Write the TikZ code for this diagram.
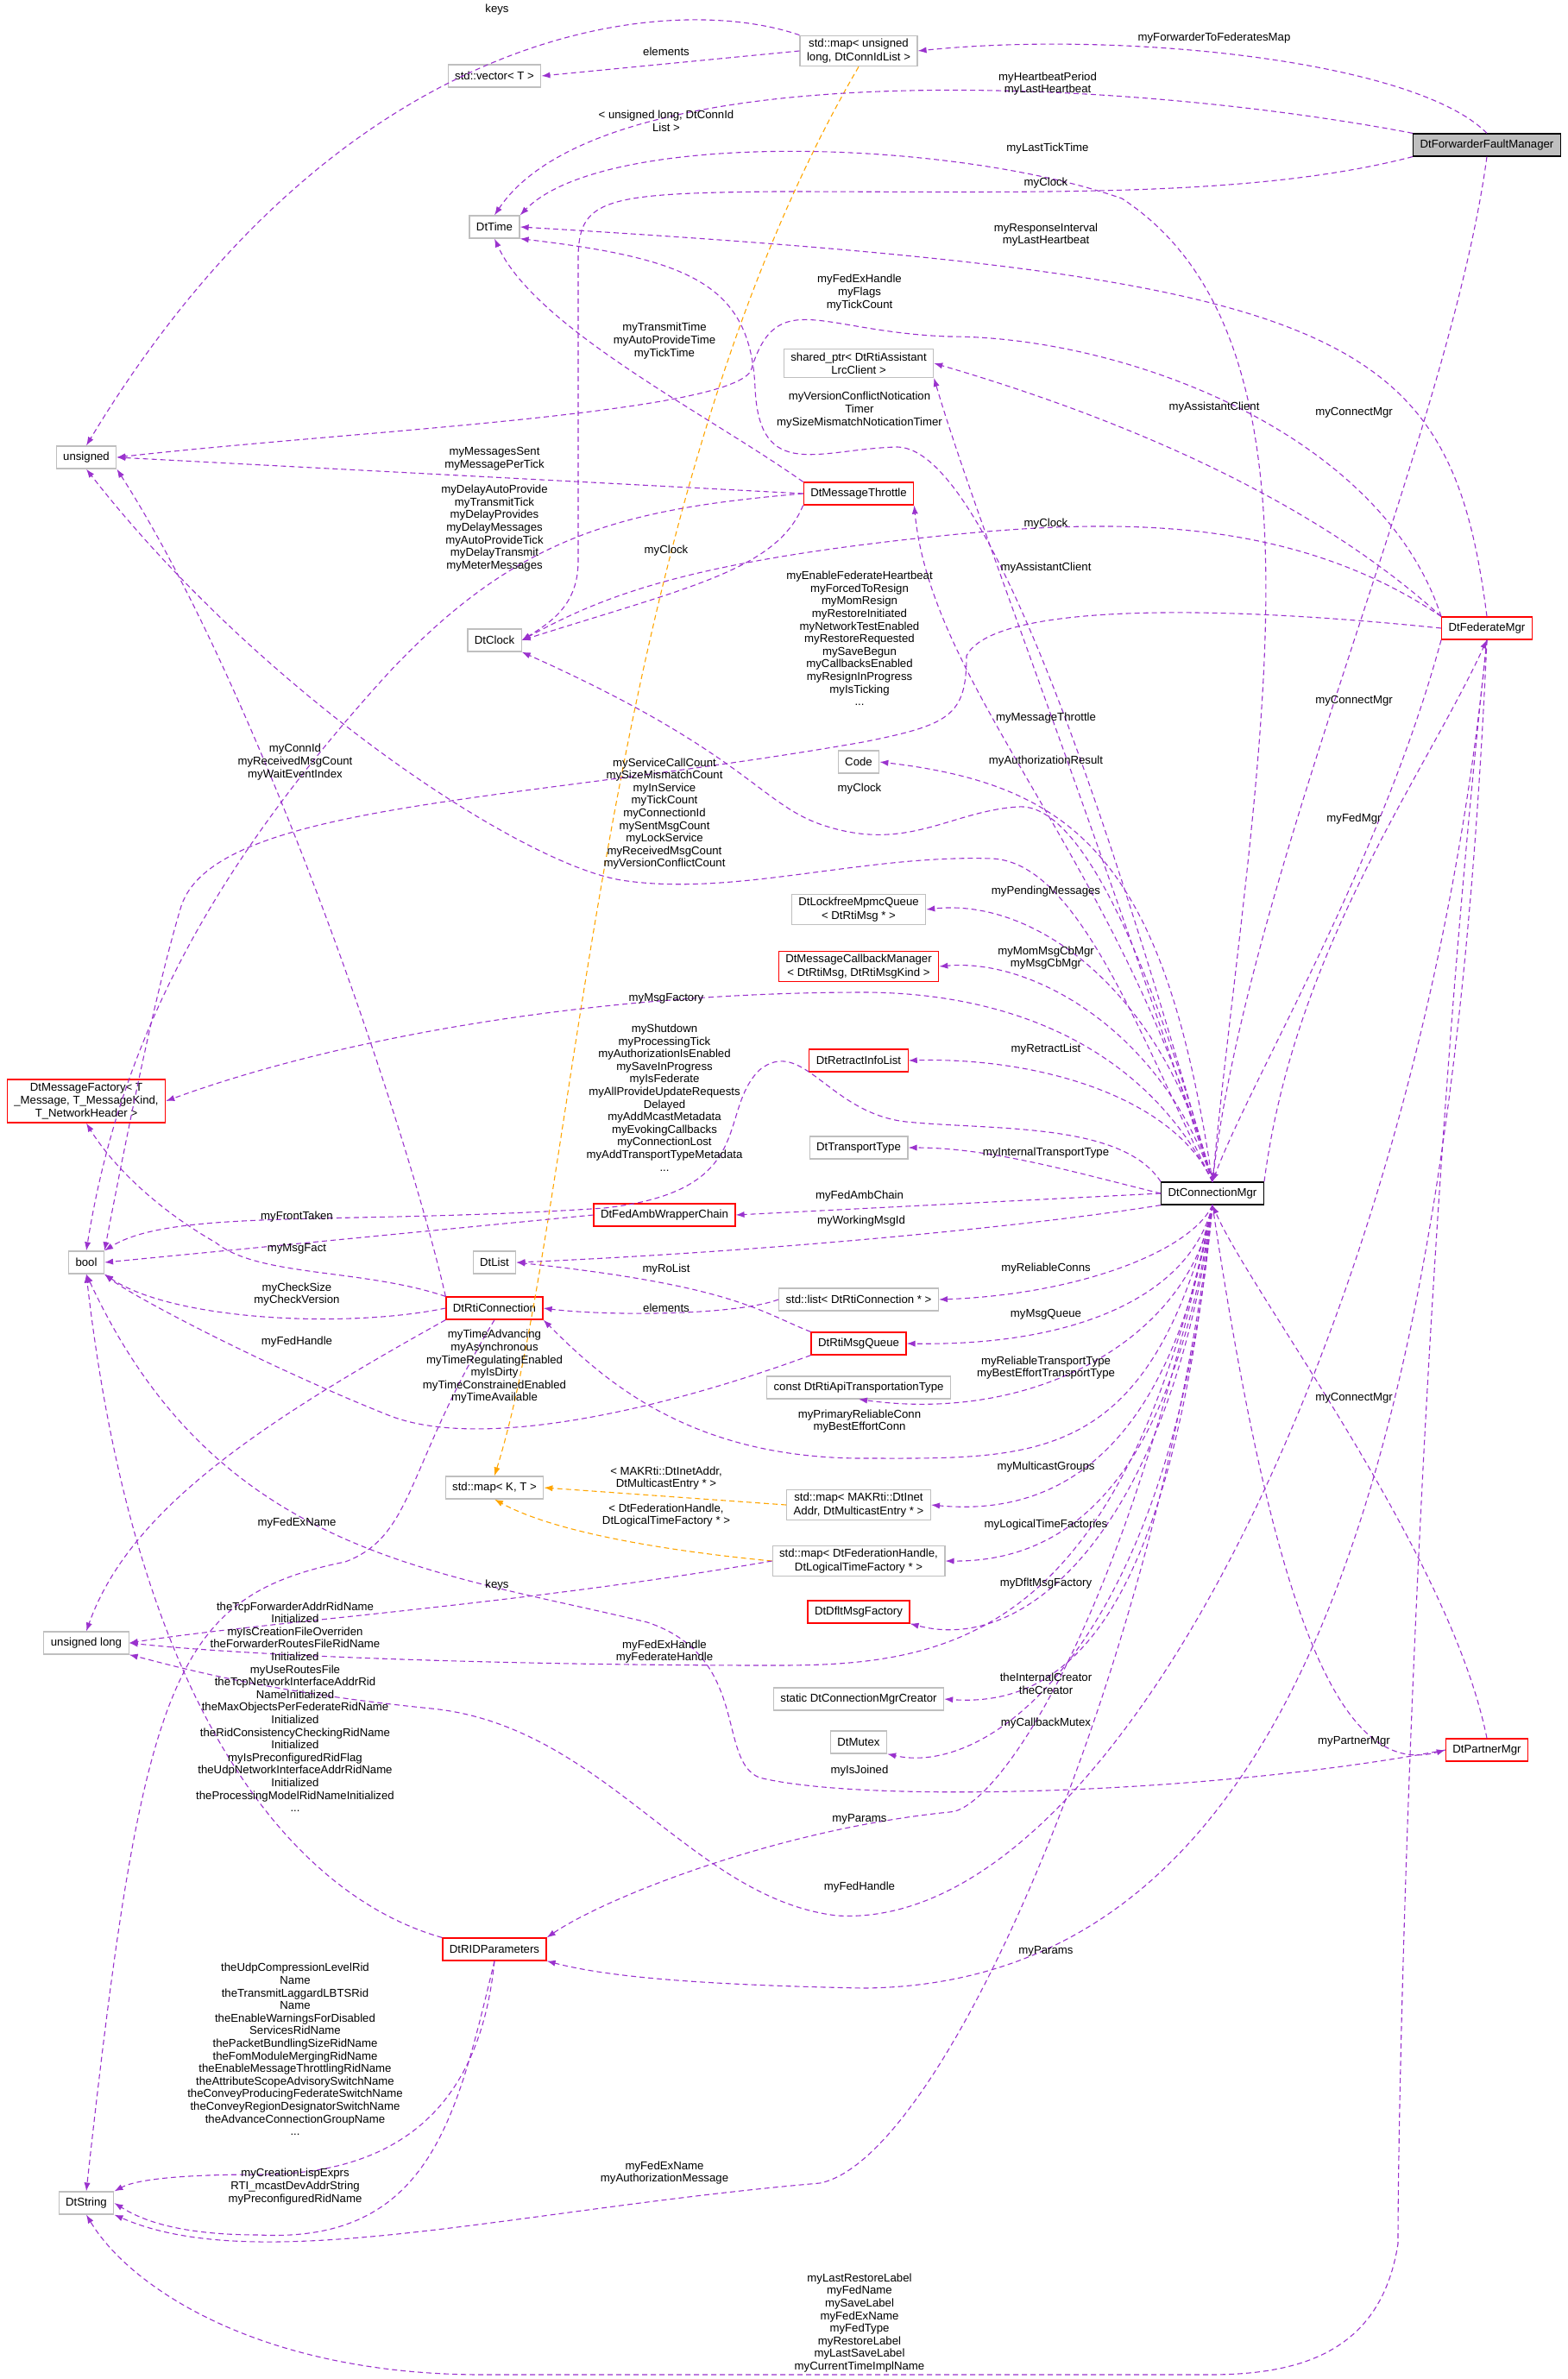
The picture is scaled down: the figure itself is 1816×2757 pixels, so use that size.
\documentclass[tikz,border=0pt]{standalone}
\usepackage{fontspec}
\setmainfont{Liberation Sans}
\usetikzlibrary{arrows.meta}
\definecolor{eP}{HTML}{9A32CD}
\definecolor{eO}{HTML}{FFA500}
\definecolor{bG}{HTML}{BFBFBF}
\begin{document}
\begin{tikzpicture}[x=0.5pt,y=-0.5pt,
 box/.style={draw=bG,fill=white,line width=0.6pt,inner xsep=4pt,inner ysep=2pt,minimum height=13pt,align=center,font=\fontsize{6.6}{7.6}\selectfont},
 rbox/.style={box,draw=red},
 mbox/.style={box,draw=black,fill=bG},
 e/.style={draw=eP,dash pattern=on 3pt off 2pt,line width=0.55pt,-{Latex[length=5pt,width=3.6pt]}},
 o/.style={e,draw=eO},
 lab/.style={align=center,inner sep=0pt,font=\fontsize{6.6}{7.3}\selectfont}]
\useasboundingbox (0,0) rectangle (1816,2757);
% nodes
\node[mbox] (ffm) at (1723,168) {DtForwarderFaultManager};
\node[box] (mapUL) at (995,59) {std::map< unsigned\\long, DtConnIdList >};
\node[box] (vecT) at (573,88) {std::vector< T >};
\node[box] (dttime) at (573,263) {DtTime};
\node[box] (shp) at (995,421) {shared\_ptr< DtRtiAssistant\\LrcClient >};
\node[box] (unsig) at (100,530) {unsigned};
\node[rbox] (thr) at (995,572) {DtMessageThrottle};
\node[box] (dtclock) at (573,742) {DtClock};
\node[rbox] (fedmgr) at (1723,728) {DtFederateMgr};
\node[box] (code) at (995,883) {Code};
\node[box] (lfq) at (995,1054) {DtLockfreeMpmcQueue\\< DtRtiMsg * >};
\node[rbox] (mcbm) at (995,1120) {DtMessageCallbackManager\\< DtRtiMsg, DtRtiMsgKind >};
\node[rbox] (mfac) at (100,1276) {DtMessageFactory< T\\\_Message, T\_MessageKind,\\T\_NetworkHeader >};
\node[rbox] (retract) at (995,1229) {DtRetractInfoList};
\node[box] (ttype) at (995,1330) {DtTransportType};
\node[box,draw=black] (cmgr) at (1405,1383) {DtConnectionMgr};
\node[rbox] (fawc) at (770,1408) {DtFedAmbWrapperChain};
\node[box] (bool) at (100,1463) {bool};
\node[box] (dtlist) at (573,1463) {DtList};
\node[box] (listrc) at (995,1506) {std::list< DtRtiConnection * >};
\node[rbox] (rtic) at (573,1516) {DtRtiConnection};
\node[rbox] (rmq) at (995,1557) {DtRtiMsgQueue};
\node[box] (capi) at (995,1608) {const DtRtiApiTransportationType};
\node[box] (mapKT) at (573,1724) {std::map< K, T >};
\node[box] (mapInet) at (995,1744) {std::map< MAKRti::DtInet\\Addr, DtMulticastEntry * >};
\node[box] (mapFH) at (995,1809) {std::map< DtFederationHandle,\\DtLogicalTimeFactory * >};
\node[box] (ulong) at (100,1904) {unsigned long};
\node[rbox] (dflt) at (995,1868) {DtDfltMsgFactory};
\node[box] (creator) at (995,1969) {static DtConnectionMgrCreator};
\node[box] (mutex) at (995,2019) {DtMutex};
\node[rbox] (partner) at (1723,2028) {DtPartnerMgr};
\node[rbox] (rid) at (573,2259) {DtRIDParameters};
\node[box] (dtstr) at (100,2553) {DtString};
% edges
\draw[e] (ffm.north) .. controls (1640,70) and (1300,35) .. (mapUL.east);
\draw[e] (mapUL.north west) .. controls (780,-10) and (400,20) .. (unsig.north);
\draw[e] (mapUL.west) -- (vecT.east);
\draw[o] (mapUL.south) .. controls (690,600) and (670,1400) .. (mapKT.north);
\draw[e] (ffm.north west) .. controls (1300,90) and (700,60) .. (dttime.north);
\draw[e] (cmgr.north) .. controls (1450,900) and (1560,400) .. (1300,230) .. controls (1100,160) and (700,150) .. (dttime.north east);
\draw[e] (ffm.south west) .. controls (1450,230) and (1200,222) .. (900,222) .. controls (700,224) and (670,230) .. (670,300) -- (670,650) .. controls (670,700) and (640,720) .. (dtclock.east);
\draw[e] (fedmgr.north) .. controls (1680,380) and (1560,320) .. (dttime.east);
\draw[e] (thr.north west) .. controls (820,480) and (620,380) .. (dttime.south);
\draw[e] (cmgr.north) .. controls (1300,1000) and (1150,520) .. (1040,518) .. controls (950,520) and (880,560) .. (875,450) .. controls (870,330) and (800,300) .. (dttime.south east);
\draw[e] (fedmgr.north west) .. controls (1600,500) and (1300,390) .. (1100,390) .. controls (950,385) and (900,330) .. (870,430) .. controls (840,480) and (400,500) .. (unsig.east);
\draw[e] (fedmgr.north west) .. controls (1500,560) and (1250,470) .. (shp.east);
\draw[e] (cmgr.north) .. controls (1250,900) and (1130,600) .. (shp.south east);
\draw[e] (thr.west) -- (unsig.east);
\draw[e] (thr.west) .. controls (720,590) and (600,620) .. (450,780) .. controls (250,1000) and (140,1200) .. (bool.north);
\draw[e] (thr.south west) .. controls (900,660) and (800,680) .. (dtclock.east);
\draw[e] (fedmgr.north west) .. controls (1500,600) and (1300,600) .. (1100,620) .. controls (800,650) and (700,690) .. (dtclock.east);
\draw[e] (fedmgr.west) .. controls (1400,700) and (1150,700) .. (1120,760) .. controls (1120,830) and (1100,840) .. (1000,860) .. controls (600,930) and (250,930) .. (210,1050) .. controls (180,1150) and (150,1300) .. (bool.north east);
\draw[e] (rtic.north west) .. controls (470,1300) and (300,800) .. (unsig.south east);
\draw[e] (cmgr.north) .. controls (1300,1000) and (1080,800) .. (thr.south east);
\draw[e] (cmgr.north) .. controls (1350,1000) and (1250,910) .. (code.east);
\draw[e] (cmgr.north) .. controls (1330,1100) and (1250,930) .. (1180,935) .. controls (1100,940) and (1050,990) .. (950,955) .. controls (880,930) and (860,870) .. (dtclock.south east);
\draw[e] (cmgr.north) .. controls (1320,1200) and (1250,1000) .. (1150,995) .. controls (1000,990) and (850,1040) .. (720,1020) .. controls (600,1000) and (300,800) .. (unsig.south);
\draw[e] (cmgr.north) .. controls (1350,1150) and (1200,1040) .. (lfq.east);
\draw[e] (cmgr.north) .. controls (1350,1200) and (1200,1110) .. (mcbm.east);
\draw[e] (cmgr.north) .. controls (1320,1200) and (1150,1150) .. (1000,1150) .. controls (700,1150) and (400,1200) .. (mfac.east);
\draw[e] (cmgr.north west) .. controls (1300,1300) and (1150,1310) .. (1050,1300) .. controls (960,1290) and (930,1200) .. (880,1240) .. controls (830,1290) and (880,1380) .. (700,1400) .. controls (400,1420) and (200,1400) .. (bool.north east);
\draw[e] (cmgr.north) .. controls (1360,1270) and (1200,1225) .. (retract.east);
\draw[e] (cmgr.west) .. controls (1250,1360) and (1150,1330) .. (ttype.east);
\draw[e] (cmgr.west) -- (fawc.east);
\draw[e] (cmgr.south west) .. controls (1200,1420) and (900,1450) .. (dtlist.east);
\draw[e] (fawc.west) -- (bool.east);
\draw[e] (rtic.north west) .. controls (420,1470) and (300,1480) .. (250,1440) .. controls (180,1400) and (130,1350) .. (mfac.south);
\draw[e] (rtic.west) .. controls (400,1540) and (200,1530) .. (bool.south east);
\draw[e] (rtic.south west) .. controls (300,1650) and (150,1750) .. (ulong.north);
\draw[e] (rmq.north west) .. controls (880,1520) and (850,1490) .. (dtlist.east);
\draw[e] (listrc.west) .. controls (850,1525) and (700,1525) .. (rtic.east);
\draw[e] (cmgr.south) .. controls (1380,1450) and (1250,1500) .. (listrc.east);
\draw[e] (cmgr.south) .. controls (1380,1500) and (1250,1560) .. (rmq.east);
\draw[e] (cmgr.south) .. controls (1380,1550) and (1200,1650) .. (capi.south);
\draw[e] (rmq.south west) .. controls (750,1640) and (550,1680) .. (450,1640) .. controls (300,1580) and (150,1500) .. (bool.south east);
\draw[e] (cmgr.south) .. controls (1330,1700) and (1200,1690) .. (1000,1690) .. controls (800,1690) and (700,1600) .. (rtic.south east);
\draw[o] (mapInet.west) -- (mapKT.east);
\draw[o] (mapFH.west) .. controls (800,1800) and (650,1780) .. (mapKT.south);
\draw[e] (mapFH.west) .. controls (600,1860) and (300,1880) .. (ulong.east);
\draw[e] (cmgr.south) .. controls (1360,1650) and (1250,1760) .. (mapInet.east);
\draw[e] (cmgr.south) .. controls (1360,1700) and (1250,1810) .. (mapFH.east);
\draw[e] (cmgr.south) .. controls (1360,1750) and (1200,1920) .. (dflt.south east);
\draw[e] (cmgr.south) .. controls (1300,1900) and (1100,1930) .. (900,1930) .. controls (600,1930) and (300,1920) .. (ulong.east);
\draw[e] (cmgr.south) .. controls (1360,1850) and (1250,1980) .. (creator.east);
\draw[e] (cmgr.south) .. controls (1360,1900) and (1150,2060) .. (mutex.south east);
\draw[e] (partner.west) .. controls (1400,2080) and (1000,2090) .. (880,2060) .. controls (830,2040) and (870,1920) .. (750,1880) .. controls (500,1820) and (250,1800) .. (bool.south);
\draw[e] (cmgr.south) .. controls (1480,1900) and (1560,2060) .. (partner.west);
\draw[e] (partner.north) .. controls (1680,1800) and (1450,1500) .. (cmgr.south);
\draw[e] (fedmgr.south west) .. controls (1600,1000) and (1450,1250) .. (cmgr.north);
\draw[e] (cmgr.north east) .. controls (1500,1100) and (1650,900) .. (fedmgr.south);
\draw[e] (ffm.south) .. controls (1680,500) and (1450,1000) .. (cmgr.north);
\draw[e] (cmgr.south) .. controls (1300,1900) and (1150,2100) .. (1100,2100) .. controls (900,2120) and (700,2200) .. (rid.north east);
\draw[e] (fedmgr.south) .. controls (1650,1500) and (1300,2240) .. (970,2220) .. controls (800,2200) and (700,2000) .. (500,1980) .. controls (300,1960) and (200,1930) .. (ulong.south east);
\draw[e] (fedmgr.south) .. controls (1680,1700) and (1500,2300) .. (1000,2304) .. controls (800,2300) and (700,2290) .. (rid.south east);
\draw[e] (rid.north west) .. controls (350,2200) and (160,2000) .. (bool.south);
\draw[e] (rid.south) .. controls (560,2400) and (500,2520) .. (300,2520) .. controls (180,2520) and (150,2530) .. (dtstr.north east);
\draw[e] (rid.south) .. controls (530,2450) and (500,2600) .. (300,2590) .. controls (200,2590) and (160,2570) .. (dtstr.east);
\draw[e] (cmgr.south) .. controls (1350,1900) and (1100,2500) .. (950,2530) .. controls (600,2560) and (300,2640) .. (dtstr.south east);
\draw[e] (fedmgr.south) .. controls (1640,1500) and (1620,2400) .. (1620,2600) .. controls (1600,2730) and (1500,2752) .. (1400,2752) -- (560,2752) .. controls (300,2752) and (150,2650) .. (dtstr.south);
\draw[e] (rtic.south) .. controls (470,1700) and (480,1780) .. (400,1810) .. controls (200,1850) and (165,1950) .. (dtstr.north);
% labels
\node[lab] (l1) at (1407,44) {myForwarderToFederatesMap};
\node[lab] (l2) at (576,11) {keys};
\node[lab] (l3) at (772,60) {elements};
\node[lab] (l4) at (1214,97) {myHeartbeatPeriod\\myLastHeartbeat};
\node[lab] (l5) at (772,140) {< unsigned long, DtConnId\\List >};
\node[lab] (l6) at (1214,172) {myLastTickTime};
\node[lab] (l7) at (1212,212) {myClock};
\node[lab] (l8) at (1212,272) {myResponseInterval\\myLastHeartbeat};
\node[lab] (l9) at (996,339) {myFedExHandle\\myFlags\\myTickCount};
\node[lab] (l10) at (770,395) {myTransmitTime\\myAutoProvideTime\\myTickTime};
\node[lab] (l11) at (996,475) {myVersionConflictNotication\\Timer\\mySizeMismatchNoticationTimer};
\node[lab] (l12) at (1407,472) {myAssistantClient};
\node[lab] (l13) at (1569,478) {myConnectMgr};
\node[lab] (l14) at (573,532) {myMessagesSent\\myMessagePerTick};
\node[lab] (l15) at (573,612) {myDelayAutoProvide\\myTransmitTick\\myDelayProvides\\myDelayMessages\\myAutoProvideTick\\myDelayTransmit\\myMeterMessages};
\node[lab] (l16) at (772,638) {myClock};
\node[lab] (l17) at (1212,607) {myClock};
\node[lab] (l18) at (1212,658) {myAssistantClient};
\node[lab] (l19) at (996,740) {myEnableFederateHeartbeat\\myForcedToResign\\myMomResign\\myRestoreInitiated\\myNetworkTestEnabled\\myRestoreRequested\\mySaveBegun\\myCallbacksEnabled\\myResignInProgress\\myIsTicking\\...};
\node[lab] (l20) at (1569,812) {myConnectMgr};
\node[lab] (l21) at (1212,832) {myMessageThrottle};
\node[lab] (l22) at (342,883) {myConnId\\myReceivedMsgCount\\myWaitEventIndex};
\node[lab] (l23) at (1212,882) {myAuthorizationResult};
\node[lab] (l24) at (996,914) {myClock};
\node[lab] (l25) at (770,943) {myServiceCallCount\\mySizeMismatchCount\\myInService\\myTickCount\\myConnectionId\\mySentMsgCount\\myLockService\\myReceivedMsgCount\\myVersionConflictCount};
\node[lab] (l26) at (1569,949) {myFedMgr};
\node[lab] (l27) at (1212,1033) {myPendingMessages};
\node[lab] (l28) at (1212,1110) {myMomMsgCbMgr\\myMsgCbMgr};
\node[lab] (l29) at (772,1157) {myMsgFactory};
\node[lab] (l30) at (770,1272) {myShutdown\\myProcessingTick\\myAuthorizationIsEnabled\\mySaveInProgress\\myIsFederate\\myAllProvideUpdateRequests\\Delayed\\myAddMcastMetadata\\myEvokingCallbacks\\myConnectionLost\\myAddTransportTypeMetadata\\...};
\node[lab] (l31) at (1212,1216) {myRetractList};
\node[lab] (l32) at (1212,1336) {myInternalTransportType};
\node[lab] (l33) at (996,1386) {myFedAmbChain};
\node[lab] (l34) at (998,1415) {myWorkingMsgId};
\node[lab] (l35) at (344,1410) {myFrontTaken};
\node[lab] (l36) at (344,1447) {myMsgFact};
\node[lab] (l37) at (344,1500) {myCheckSize\\myCheckVersion};
\node[lab] (l38) at (344,1555) {myFedHandle};
\node[lab] (l39) at (772,1471) {myRoList};
\node[lab] (l40) at (772,1516) {elements};
\node[lab] (l41) at (1212,1470) {myReliableConns};
\node[lab] (l42) at (1212,1523) {myMsgQueue};
\node[lab] (l43) at (573,1584) {myTimeAdvancing\\myAsynchronous\\myTimeRegulatingEnabled\\myIsDirty\\myTimeConstrainedEnabled\\myTimeAvailable};
\node[lab] (l44) at (1212,1585) {myReliableTransportType\\myBestEffortTransportType};
\node[lab] (l45) at (1569,1620) {myConnectMgr};
\node[lab] (l46) at (996,1647) {myPrimaryReliableConn\\myBestEffortConn};
\node[lab] (l47) at (1212,1700) {myMulticastGroups};
\node[lab] (l48) at (772,1713) {< MAKRti::DtInetAddr,\\DtMulticastEntry * >};
\node[lab] (l49) at (772,1756) {< DtFederationHandle,\\DtLogicalTimeFactory * >};
\node[lab] (l50) at (1212,1767) {myLogicalTimeFactories};
\node[lab] (l51) at (344,1765) {myFedExName};
\node[lab] (l52) at (576,1837) {keys};
\node[lab] (l53) at (1212,1835) {myDfltMsgFactory};
\node[lab] (l54) at (342,1978) {theTcpForwarderAddrRidName\\Initialized\\myIsCreationFileOverriden\\theForwarderRoutesFileRidName\\Initialized\\myUseRoutesFile\\theTcpNetworkInterfaceAddrRid\\NameInitialized\\theMaxObjectsPerFederateRidName\\Initialized\\theRidConsistencyCheckingRidName\\Initialized\\myIsPreconfiguredRidFlag\\theUdpNetworkInterfaceAddrRidName\\Initialized\\theProcessingModelRidNameInitialized\\...};
\node[lab] (l55) at (770,1914) {myFedExHandle\\myFederateHandle};
\node[lab] (l56) at (1212,1951) {theInternalCreator\\theCreator};
\node[lab] (l57) at (1212,1997) {myCallbackMutex};
\node[lab] (l58) at (1569,2018) {myPartnerMgr};
\node[lab] (l59) at (996,2052) {myIsJoined};
\node[lab] (l60) at (996,2108) {myParams};
\node[lab] (l61) at (996,2187) {myFedHandle};
\node[lab] (l62) at (1212,2261) {myParams};
\node[lab] (l63) at (342,2375) {theUdpCompressionLevelRid\\Name\\theTransmitLaggardLBTSRid\\Name\\theEnableWarningsForDisabled\\ServicesRidName\\thePacketBundlingSizeRidName\\theFomModuleMergingRidName\\theEnableMessageThrottlingRidName\\theAttributeScopeAdvisorySwitchName\\theConveyProducingFederateSwitchName\\theConveyRegionDesignatorSwitchName\\theAdvanceConnectionGroupName\\...};
\node[lab] (l64) at (342,2534) {myCreationLispExprs\\RTI\_mcastDevAddrString\\myPreconfiguredRidName};
\node[lab] (l65) at (770,2518) {myFedExName\\myAuthorizationMessage};
\node[lab] (l66) at (996,2692) {myLastRestoreLabel\\myFedName\\mySaveLabel\\myFedExName\\myFedType\\myRestoreLabel\\myLastSaveLabel\\myCurrentTimeImplName};
\end{tikzpicture}
\end{document}
